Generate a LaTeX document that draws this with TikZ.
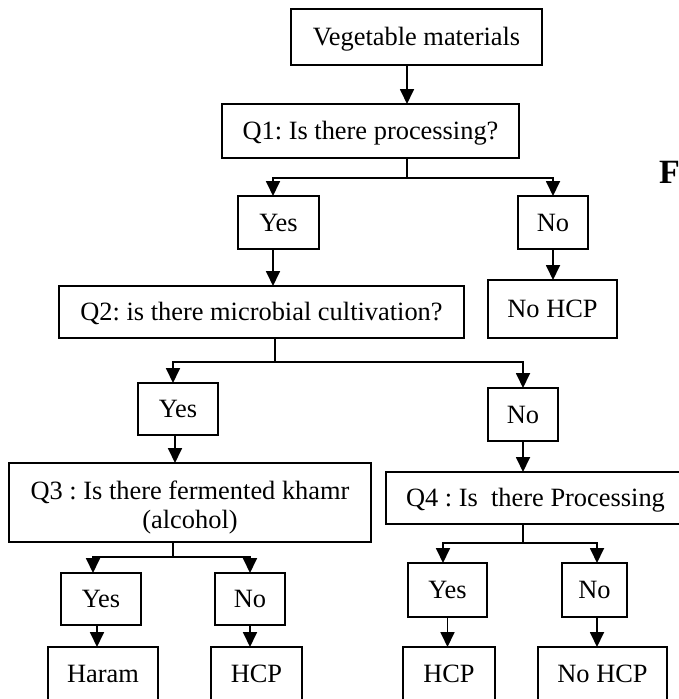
\documentclass[tikz,border=0pt]{standalone}
\usepackage{fontspec}
\setmainfont{Liberation Serif}
\frenchspacing
\usetikzlibrary{arrows.meta}
\tikzset{
  box/.style={draw, line width=1.8pt, inner sep=0pt, outer sep=0pt,
    font=\fontsize{26.4}{29}\selectfont, text height=17.4pt, text depth=0pt},
  ln/.style={line width=1.8pt},
  arr/.style={line width=1.8pt, -{Triangle[length=15pt,width=14pt]}}
}
\begin{document}
\begin{tikzpicture}[x=1pt,y=-1pt]
\useasboundingbox (0,0) rectangle (679,699);
\clip (0,0) rectangle (679,699);
% nodes
\node[box, minimum width=251, minimum height=56] (Veg) at (416.5,37) {Vegetable materials};
\node[box, minimum width=297, minimum height=54] (Q1) at (370.5,131) {Q1: Is there processing?};
\node[box, minimum width=81, minimum height=53] (Yes1) at (278.5,222.5) {Yes};
\node[box, minimum width=70, minimum height=53] (No1) at (553,222.5) {No};
\node[box, minimum width=405, minimum height=52] (Q2) at (261.5,312) {Q2: is there microbial cultivation?};
\node[box, minimum width=129, minimum height=58] (NoHCPa) at (552.5,309) {No HCP};
\node[box, minimum width=80, minimum height=52] (Yes2) at (178,409) {Yes};
\node[box, minimum width=70, minimum height=53] (No2) at (523,414.5) {No};
\node[box, minimum width=362, minimum height=79, text height=17.4pt, text depth=24.4pt] (Q3) at (190,502.5)
  {\begin{tabular}[t]{@{}c@{}}Q3 : Is there fermented khamr\\(alcohol)\end{tabular}};
\node[box, minimum width=299, minimum height=52] (Q4) at (535.5,498) {Q4 : Is\ \ there Processing};
\node[box, minimum width=80, minimum height=52] (Yes3) at (101,599) {Yes};
\node[box, minimum width=70, minimum height=52] (No3) at (250,599) {No};
\node[box, minimum width=110, minimum height=54] (Haram) at (103,674) {Haram};
\node[box, minimum width=91, minimum height=54] (HCPb) at (256.5,674) {HCP};
\node[box, minimum width=79, minimum height=54] (Yes4) at (447.5,590) {Yes};
\node[box, minimum width=65, minimum height=54] (No4) at (594.5,590) {No};
\node[box, minimum width=92, minimum height=54] (HCPc) at (449,674) {HCP};
\node[box, minimum width=129, minimum height=54] (NoHCPd) at (602.5,674) {No HCP};
\node[font=\bfseries\fontsize{34}{40}\selectfont, inner sep=0pt, anchor=base west] (F) at (659,183) {F};
% branch points
\coordinate (b1) at (407,178);
\coordinate (b2) at (275,362);
\coordinate (b3) at (173,557);
\coordinate (b4) at (523,543);
% connectors
\draw[arr] (Veg.south -| b1) -- (Q1.north -| b1);
\draw[ln] (Q1.south -| b1) -- (b1);
\draw[arr] (b1) -| ([xshift=-5.5pt]Yes1.north);
\draw[arr] (b1) -| (No1.north);
\draw[arr] ([xshift=-5.5pt]Yes1.south) -- ([xshift=-5.5pt]Yes1.south |- Q2.north);
\draw[arr] (No1.south) -- (No1.south |- NoHCPa.north);
\draw[ln] (Q2.south -| b2) -- (b2);
\draw[arr] (b2) -| ([xshift=-5pt]Yes2.north);
\draw[arr] (b2) -| (No2.north);
\draw[arr] ([xshift=-3pt]Yes2.south) -- ([xshift=-3pt]Yes2.south |- Q3.north);
\draw[arr] (No2.south) -- (No2.south |- Q4.north);
\draw[ln] (Q3.south -| b3) -- (b3);
\draw[arr] (b3) -| ([xshift=-8pt]Yes3.north);
\draw[arr] (b3) -| (No3.north);
\draw[arr] ([xshift=-4pt]Yes3.south) -- ([xshift=-4pt]Yes3.south |- Haram.north);
\draw[arr] (No3.south) -- (No3.south |- HCPb.north);
\draw[ln] (Q4.south -| b4) -- (b4);
\draw[arr] (b4) -| ([xshift=-4.5pt]Yes4.north);
\draw[arr] (b4) -| ([xshift=2.5pt]No4.north);
\draw[arr] (Yes4.south) -- (Yes4.south |- HCPc.north);
\draw[arr] ([xshift=2.5pt]No4.south) -- ([xshift=2.5pt]No4.south |- NoHCPd.north);
\end{tikzpicture}
\end{document}
